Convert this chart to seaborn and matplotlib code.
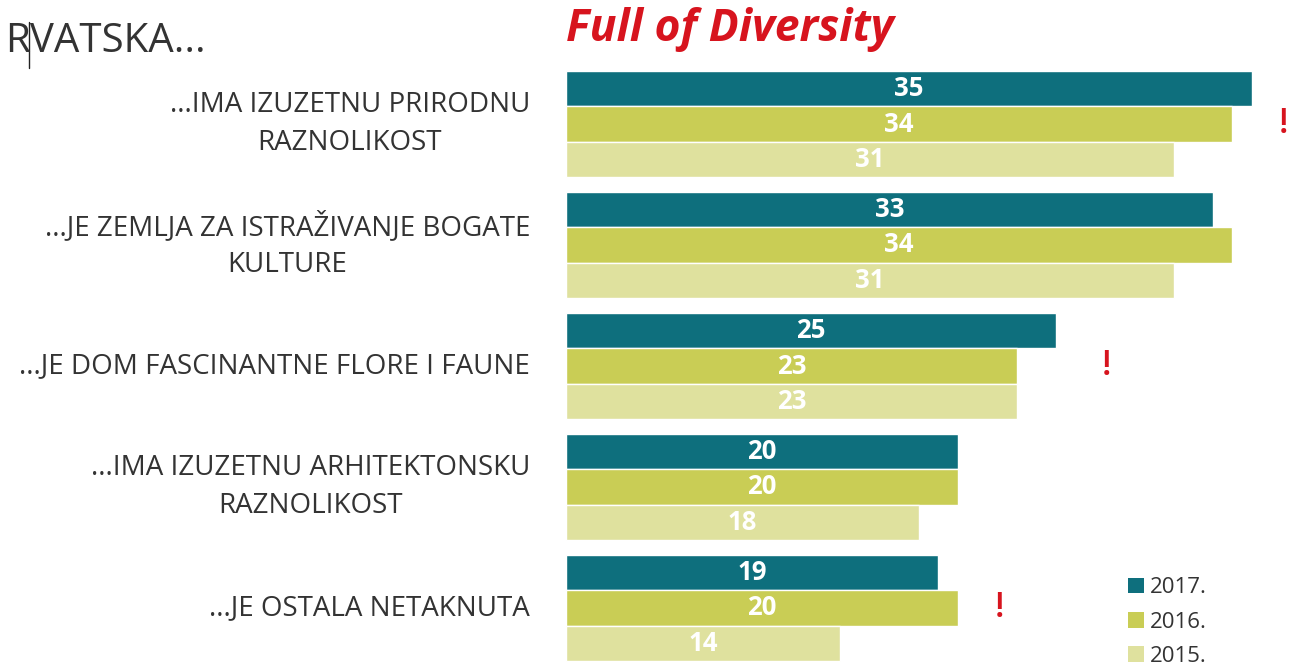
import matplotlib
matplotlib.use("Agg")
import matplotlib.pyplot as plt
import seaborn as sns
import pandas as pd
from matplotlib.patches import Patch
from matplotlib.lines import Line2D

categories = [
    "...IMA IZUZETNU PRIRODNU\nRAZNOLIKOST",
    "...JE ZEMLJA ZA ISTRAŽIVANJE BOGATE\nKULTURE",
    "...JE DOM FASCINANTNE FLORE I FAUNE",
    "...IMA IZUZETNU ARHITEKTONSKU\nRAZNOLIKOST",
    "...JE OSTALA NETAKNUTA",
]
years = ["2017.", "2016.", "2015."]
values_2017 = [35, 33, 25, 20, 19]
values_2016 = [34, 34, 23, 20, 20]
values_2015 = [31, 31, 23, 18, 14]
exclaim_idx = [0, 2, 4]
exclaim_x = [36.6, 27.6, 22.1]

colors = ["#0e6f7d", "#c9cd55", "#dfe19e"]
text_color = "#333333"

df = pd.DataFrame({
    "cat": categories * 3,
    "year": [years[0]] * 5 + [years[1]] * 5 + [years[2]] * 5,
    "val": values_2017 + values_2016 + values_2015,
})

sns.set_theme(style="white")
plt.rcParams["font.family"] = ["Open Sans", "DejaVu Sans"]

PX = 19.6
fig = plt.figure(figsize=(12.97, 6.71), dpi=100)
ax = fig.add_axes([566 / 1297, 0, 731 / 1297, 1])

sns.barplot(data=df, y="cat", x="val", hue="year", orient="h",
            palette=colors, width=0.87, gap=0, ax=ax, legend=False,
            saturation=1)

for cont in ax.containers:
    ax.bar_label(cont, label_type="center", color="white",
                 fontsize=18.5, fontweight="bold")

ax.set_xlim(0, 731 / PX)
ax.set_ylim(4 + 63 / 121, -124 / 121)
ax.set_xlabel("")
ax.set_ylabel("")
ax.set_xticks([])
ax.set_yticks([])
for s in ax.spines.values():
    s.set_visible(False)

for i, cat in enumerate(categories):
    ax.text(-36 / PX, i, cat, ha="right", va="center",
            multialignment="center", fontsize=20, color=text_color,
            linespacing=1.45)

for i, xv in zip(exclaim_idx, exclaim_x):
    ax.text(xv, i, "!", ha="center", va="center", color="#d7141e",
            fontsize=25, fontweight="semibold")

title_y = 1 - 42 / 671
fig.text(5 / 1297, title_y, "RVATSKA...", ha="left", va="center",
         fontsize=29, color=text_color)
renderer = fig.canvas.get_renderer()
tmp = fig.text(5 / 1297, title_y, "R", ha="left", va="center", fontsize=29)
rx = tmp.get_window_extent(renderer).x1
tmp.remove()
fig.add_artist(Line2D([(rx - 1) / 1297, (rx - 1) / 1297],
                      [1 - 22 / 671, 1 - 68 / 671],
                      color="#222222", lw=1))
fig.text(566 / 1297, 1 - 30 / 671, "Full of Diversity", ha="left", va="center",
         fontsize=32, color="#d7141e", fontweight="bold", style="italic")

handles = [Patch(facecolor=c, edgecolor="none") for c in colors]
leg = fig.legend(handles, years, loc="lower left",
                 bbox_to_anchor=(1108 / 1297, -16 / 671), frameon=False,
                 fontsize=16, handlelength=0.7, handleheight=0.7,
                 handletextpad=0.3, labelspacing=0.6, labelcolor=text_color)

fig.savefig("out.png", dpi=100)
